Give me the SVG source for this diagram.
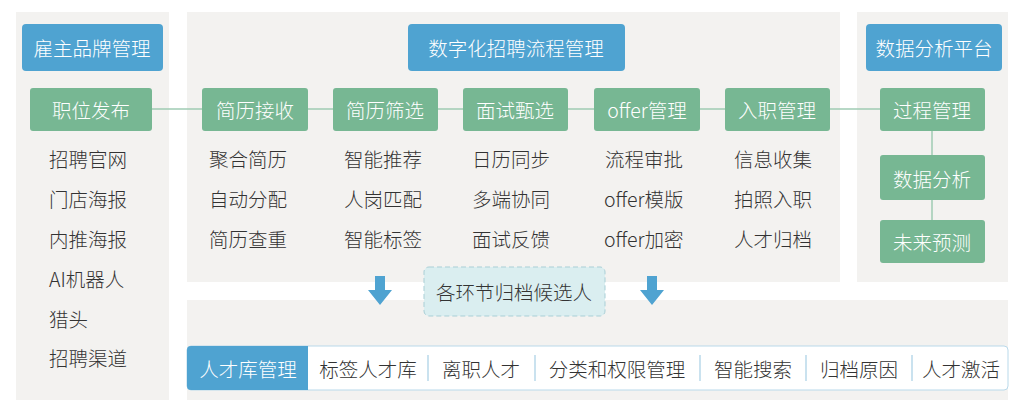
<svg xmlns="http://www.w3.org/2000/svg" width="1028" height="400" viewBox="0 0 1028 400">
<style>
text{font-family:"Noto Sans CJK SC","Noto Sans",sans-serif;font-size:19.5px;font-weight:300;text-anchor:middle;dominant-baseline:central}
.l text{text-anchor:start}
.panel{fill:#f3f2f0}
.blue{fill:#4fa3d1}
.green{fill:#77b793}
.w{fill:#ffffff}
.d{fill:#333333}
.sep{stroke:#b9d9ea;stroke-width:1.5}
</style>
<rect width="1028" height="400" fill="#fff"/>
<rect class="panel" x="16" y="12" width="153" height="388"/>
<rect class="panel" x="187" y="12" width="653" height="270"/>
<rect class="panel" x="857" y="12" width="151" height="270"/>
<rect class="panel" x="187" y="300" width="821" height="100"/>
<g id="connectors" stroke="#9fcbb3" stroke-width="1.5" fill="none">
<line x1="152" y1="109" x2="880" y2="109"/>
<line x1="932" y1="131" x2="932" y2="220"/>
</g>
<g id="h1"><rect class="blue" x="22" y="24" width="141" height="47" rx="4"/><text class="w" x="92" y="47">雇主品牌管理</text></g>
<g id="h2"><rect class="blue" x="408" y="24" width="217" height="47" rx="4"/><text class="w" x="516" y="47">数字化招聘流程管理</text></g>
<g id="h3"><rect class="blue" x="866" y="24" width="136" height="47" rx="4"/><text class="w" x="934" y="47">数据分析平台</text></g>
<g id="n1"><rect class="green" x="30" y="88" width="122" height="43" rx="3"/><text class="w" x="91" y="109">职位发布</text></g>
<g id="n2"><rect class="green" x="202" y="88" width="106" height="43" rx="3"/><text class="w" x="255" y="109">简历接收</text></g>
<g id="n3"><rect class="green" x="333" y="88" width="105" height="43" rx="3"/><text class="w" x="385" y="109">简历筛选</text></g>
<g id="n4"><rect class="green" x="463" y="88" width="105" height="43" rx="3"/><text class="w" x="515" y="109">面试甄选</text></g>
<g id="n5"><rect class="green" x="594" y="88" width="106" height="43" rx="3"/><text class="w" x="647" y="109">offer管理</text></g>
<g id="n6"><rect class="green" x="725" y="88" width="105" height="43" rx="3"/><text class="w" x="777" y="109">入职管理</text></g>
<g id="n7"><rect class="green" x="880" y="88" width="105" height="43" rx="3"/><text class="w" x="932" y="109">过程管理</text></g>
<g id="n8"><rect class="green" x="880" y="155" width="105" height="45" rx="3"/><text class="w" x="932" y="178">数据分析</text></g>
<g id="n9"><rect class="green" x="880" y="220" width="105" height="43" rx="3"/><text class="w" x="932" y="241">未来预测</text></g>
<g id="lists" class="d l">
<text x="49" y="158">招聘官网</text><text x="49" y="198">门店海报</text><text x="49" y="238">内推海报</text><text x="49" y="278">AI机器人</text><text x="49" y="318">猎头</text><text x="49" y="357">招聘渠道</text>
<text x="209" y="158">聚合简历</text><text x="209" y="198">自动分配</text><text x="209" y="238">简历查重</text>
<text x="344" y="158">智能推荐</text><text x="344" y="198">人岗匹配</text><text x="344" y="238">智能标签</text>
<text x="472" y="158">日历同步</text><text x="472" y="198">多端协同</text><text x="472" y="238">面试反馈</text>
<text x="605" y="158">流程审批</text><text x="604" y="198">offer模版</text><text x="604" y="238">offer加密</text>
<text x="734" y="158">信息收集</text><text x="734" y="198">拍照入职</text><text x="734" y="238">人才归档</text>
</g>
<g id="arrows" fill="#4fa3d1">
<path d="M375 276h10v14h7l-12 15l-12-15h7z"/>
<path d="M647 276h10v14h7l-12 15l-12-15h7z"/>
</g>
<g id="archive"><rect x="424" y="267" width="181" height="49" rx="5" fill="#daeef0" stroke="#a9cfd6" stroke-dasharray="5,3"/><text class="d" x="514" y="291">各环节归档候选人</text></g>
<g id="bar">
<rect x="187" y="346" width="821" height="44" rx="4" fill="#fff" stroke="#b9d9ea"/>
<path d="M191 346h117v44h-117a4 4 0 0 1-4-4v-36a4 4 0 0 1 4-4z" class="blue"/>
<text class="w" x="248" y="368">人才库管理</text>
<text class="d" x="368" y="368">标签人才库</text>
<line class="sep" x1="428" y1="355" x2="428" y2="381"/>
<text class="d" x="481" y="368">离职人才</text>
<line class="sep" x1="535" y1="355" x2="535" y2="381"/>
<text class="d" x="617" y="368">分类和权限管理</text>
<line class="sep" x1="700" y1="355" x2="700" y2="381"/>
<text class="d" x="753" y="368">智能搜索</text>
<line class="sep" x1="806" y1="355" x2="806" y2="381"/>
<text class="d" x="859" y="368">归档原因</text>
<line class="sep" x1="912" y1="355" x2="912" y2="381"/>
<text class="d" x="961" y="368">人才激活</text>
</g>
</svg>
